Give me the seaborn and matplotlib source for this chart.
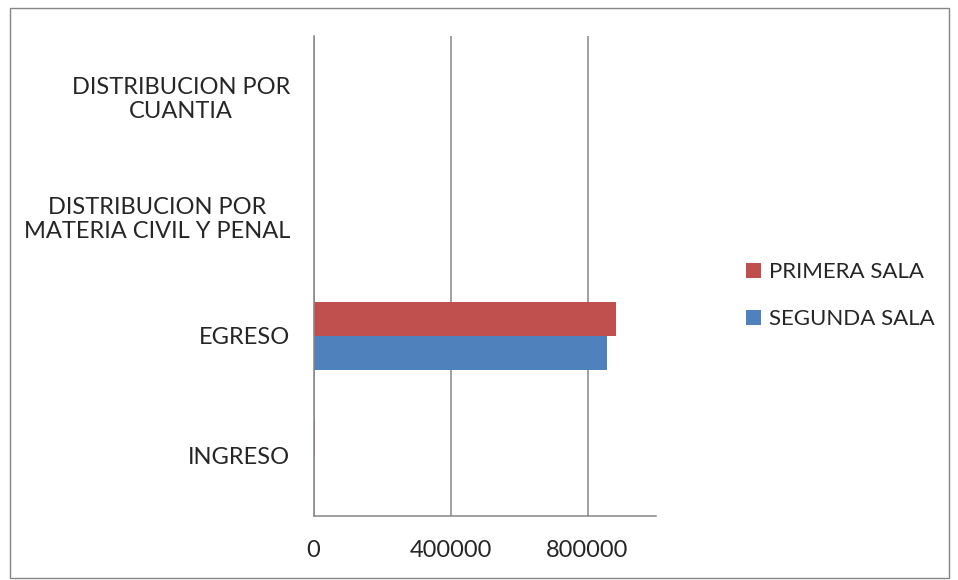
import numpy as np
import pandas as pd
import matplotlib
matplotlib.use("Agg")
import matplotlib.pyplot as plt
import seaborn as sns
from matplotlib.patches import Patch, Rectangle

# Data
categorias = ["DISTRIBUCION POR\nCUANTIA",
              "DISTRIBUCION POR\nMATERIA CIVIL Y PENAL",
              "EGRESO",
              "INGRESO"]
primera_sala = [0, 0, 882000, 3000]
segunda_sala = [0, 0, 858000, 2500]
series = ["PRIMERA SALA", "SEGUNDA SALA"]
colores = ["#C0504D", "#4F81BD"]
xticks = [0, 400000, 800000]

df = pd.DataFrame({
    "categoria": categorias * 2,
    "valor": primera_sala + segunda_sala,
    "sala": [series[0]] * len(categorias) + [series[1]] * len(categorias),
})

sns.set_style("white")
plt.rcParams["font.family"] = ["Lato", "DejaVu Sans"]
gris = "#868686"
fs = 17

fig = plt.figure(figsize=(9.58, 5.8), dpi=100)
ax = fig.add_axes([313.5 / 958, 1 - 516 / 580, (656 - 313.5) / 958, (516 - 36) / 580])

sns.barplot(data=df, y="categoria", x="valor", hue="sala", order=categorias,
            hue_order=series, palette=colores, orient="h", width=0.57,
            linewidth=0, saturation=1, legend=False, ax=ax)

ax.set_xlim(0, 1000000)
ax.set_ylim(3.5, -0.5)
ax.set_xticks(xticks)
ax.set_xticklabels([str(v) for v in xticks], fontsize=fs)
ax.xaxis.grid(True, color=gris, linewidth=1.1)
ax.yaxis.grid(False)
ax.set_axisbelow(True)
ax.set_xlabel("")
ax.set_ylabel("")

ax.set_yticks(np.arange(len(categorias)))
ax.set_yticklabels(categorias, fontsize=fs, multialignment="center")
ax.set_yticks(np.arange(-0.5, len(categorias)), minor=True)
ax.tick_params(axis="y", which="major", length=0, pad=17)
ax.tick_params(axis="y", which="minor", length=6, width=1.1, color=gris, direction="out")
ax.tick_params(axis="x", which="major", length=6, width=1.1, color=gris, direction="out", pad=11)

for s in ["top", "right"]:
    ax.spines[s].set_visible(False)
for s in ["left", "bottom"]:
    ax.spines[s].set_color(gris)
    ax.spines[s].set_linewidth(1.1)

handles = [Patch(facecolor=c, edgecolor="none") for c in colores]
fig.legend(handles, series, loc="center left", bbox_to_anchor=(746 / 958, 1 - 295.5 / 580),
           frameon=False, fontsize=16, handlelength=0.66, handleheight=0.66,
           handletextpad=0.38, labelspacing=1.2, borderpad=0, borderaxespad=0)

# outer chart border
fig.patches.append(Rectangle((9.5 / 958, 1 - 577.5 / 580), (948.5 - 9.5) / 958, (577.5 - 7.5) / 580,
                             transform=fig.transFigure, fill=False, edgecolor=gris, linewidth=1))

fig.savefig("out.png", dpi=100)
